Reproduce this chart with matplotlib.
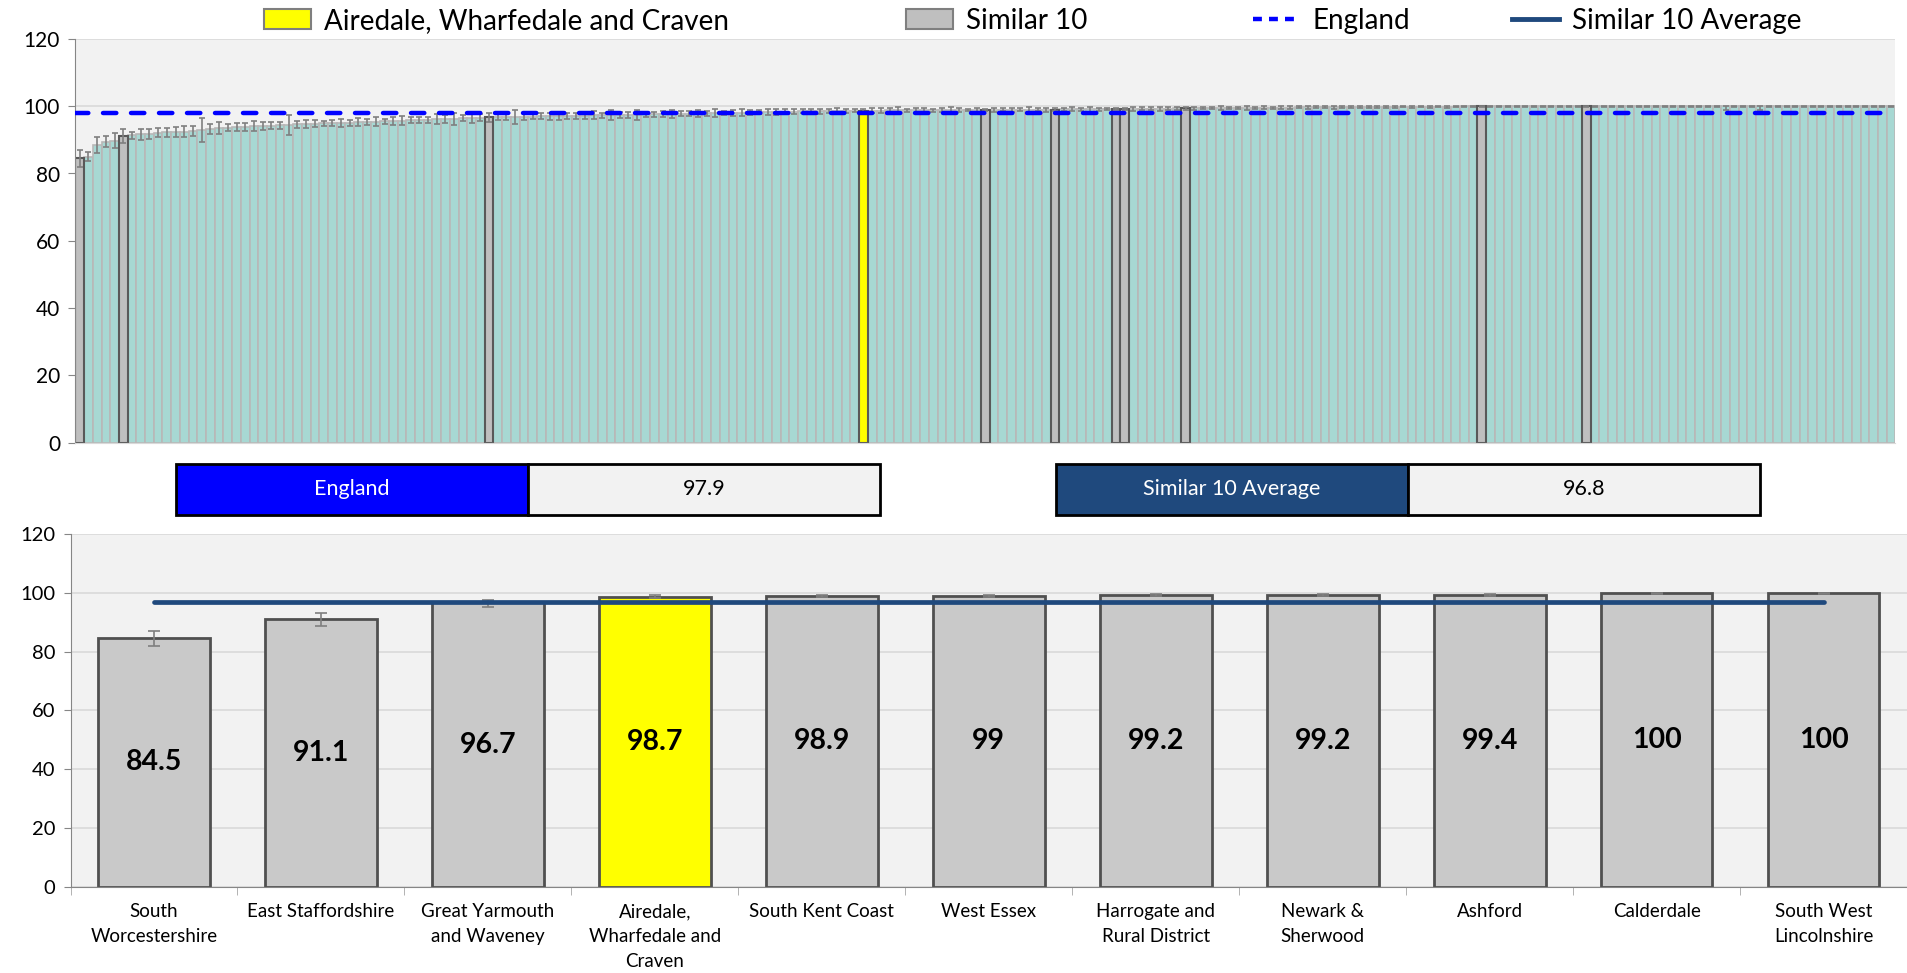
import matplotlib
matplotlib.use("Agg")
import matplotlib.pyplot as plt
from matplotlib.patches import Patch, Rectangle
from matplotlib.lines import Line2D

plt.rcParams['font.family'] = ['Lato', 'DejaVu Sans']

# all areas, sorted ascending (top chart)
all_values = [
    84.5, 85.0, 88.5, 89.5, 89.8, 91.1, 91.3, 91.6, 91.8, 92.1, 92.2, 92.4, 92.4, 92.6,
    92.9, 93.2, 93.4, 93.6, 93.8, 93.9, 94.0, 94.1, 94.2, 94.3, 94.4, 94.6, 94.7, 94.8,
    94.9, 95.0, 95.0, 95.1, 95.2, 95.3, 95.4, 95.5, 95.6, 95.7, 95.8, 95.9, 96.0, 96.1,
    96.2, 96.3, 96.4, 96.5, 96.6, 96.7, 96.7, 96.8, 96.8, 96.9, 96.9, 97.0, 97.0, 97.1,
    97.1, 97.2, 97.2, 97.3, 97.3, 97.4, 97.4, 97.5, 97.5, 97.6, 97.6, 97.7, 97.7, 97.8,
    97.8, 97.9, 97.9, 98.0, 98.0, 98.1, 98.1, 98.2, 98.2, 98.3, 98.3, 98.4, 98.4, 98.5,
    98.5, 98.5, 98.6, 98.6, 98.6, 98.7, 98.7, 98.7, 98.7, 98.8, 98.8, 98.8, 98.8, 98.8,
    98.8, 98.8, 98.9, 98.9, 98.9, 98.9, 98.9, 98.9, 99.0, 99.0, 99.0, 99.0, 99.0, 99.0,
    99.0, 99.1, 99.1, 99.1, 99.1, 99.1, 99.2, 99.2, 99.2, 99.2, 99.3, 99.3, 99.3, 99.3,
    99.4, 99.4, 99.4, 99.4, 99.5, 99.5, 99.5, 99.5, 99.5, 99.6, 99.6, 99.6, 99.6, 99.6,
    99.7, 99.7, 99.7, 99.7, 99.7, 99.7, 99.8, 99.8, 99.8, 99.8, 99.8, 99.8, 99.9, 99.9,
    99.9, 99.9, 99.9, 99.9, 99.9, 100, 100, 100, 100, 100, 100, 100, 100, 100,
    100, 100, 100, 100, 100, 100, 100, 100, 100, 100, 100, 100, 100, 100,
    100, 100, 100, 100, 100, 100, 100, 100, 100, 100, 100, 100, 100, 100,
    100, 100, 100, 100, 100, 100, 100, 100, 100, 100, 100, 100, 100,
]
all_err = [
    2.5, 1.3, 2.3, 1.7, 2.3, 2.1, 1.1, 1.7, 1.5, 1.4, 1.3, 1.5, 1.6, 1.5,
    3.5, 1.5, 1.8, 1.0, 1.2, 1.2, 1.5, 1.3, 1.1, 1.0, 3.0, 1.0, 1.2, 1.0,
    0.8, 1.0, 1.1, 0.9, 1.2, 1.0, 1.3, 0.8, 1.1, 1.4, 0.9, 1.0, 0.9, 1.5,
    1.2, 1.8, 0.9, 1.4, 1.0, 1.3, 0.9, 1.0, 2.2, 1.1, 0.8, 0.9, 1.0, 1.3,
    0.8, 0.9, 1.0, 1.2, 0.7, 1.4, 0.8, 0.9, 1.5, 0.8, 0.7, 0.9, 1.3, 0.8,
    0.7, 1.0, 0.8, 1.1, 0.7, 0.9, 1.0, 0.8, 0.6, 0.9, 1.0, 0.7, 0.8, 0.6,
    0.7, 0.8, 0.6, 0.9, 0.7, 0.5, 0.5, 0.8, 0.7, 0.6, 0.9, 0.5, 0.7, 0.6,
    0.5, 0.6, 0.8, 0.5, 0.4, 0.6, 0.4, 0.7, 0.5, 0.6, 0.4, 0.8, 0.5, 0.6,
    0.4, 0.5, 0.6, 0.4, 0.7, 0.5, 0.4, 0.4, 0.4, 0.6, 0.5, 0.4, 0.6, 0.5,
    0.4, 0.4, 0.5, 0.3, 0.4, 0.5, 0.3, 0.4, 0.6, 0.3, 0.4, 0.3, 0.5, 0.4,
    0.3, 0.4, 0.3, 0.3, 0.5, 0.3, 0.3, 0.4, 0.3, 0.2, 0.3, 0.4, 0.2, 0.3,
    0.2, 0.3, 0.2, 0.3, 0.2, 0.3, 0.2, 0.3, 0.2, 0.3, 0.2, 0.2, 0.3, 0.2,
    0.3, 0.2, 0.2, 0.3, 0.2, 0.3, 0.2, 0.2, 0.3, 0.2, 0.2, 0.2, 0.3, 0.2,
    0.2, 0.3, 0.2, 0.2, 0.3, 0.2, 0.2, 1.0, 0.2, 0.3, 0.2, 1.2, 0.2, 0.3,
    0.2, 0.2, 0.3, 0.2, 0.3, 0.2, 0.2, 0.3, 0.2, 0.2, 0.3, 0.2, 0.2,
]
similar_idx = [0, 5, 47, 104, 112, 119, 120, 127, 161, 173]
local_idx = 90

# similar 10 + local area (bottom chart)
names = ["South\nWorcestershire", "East Staffordshire", "Great Yarmouth\nand Waveney",
         "Airedale,\nWharfedale and\nCraven", "South Kent Coast", "West Essex",
         "Harrogate and\nRural District", "Newark &\nSherwood", "Ashford", "Calderdale",
         "South West\nLincolnshire"]
values = [84.5, 91.1, 96.7, 98.7, 98.9, 99.0, 99.2, 99.2, 99.4, 100, 100]
ci_low = [81.8, 88.6, 95.2, 98.2, 98.5, 98.6, 98.8, 98.8, 99.0, 99.7, 99.6]
ci_high = [86.9, 93.2, 97.7, 99.1, 99.2, 99.3, 99.5, 99.5, 99.7, 100, 100]
local_name = "Airedale, Wharfedale and Craven"
england = 97.9
similar_avg = 96.8

W, H = 1907, 973
fig = plt.figure(figsize=(W / 100, H / 100), dpi=100)

# ---- top chart
ax1 = fig.add_axes([75.4 / W, 1 - 442.7 / H, 1820 / W, 403.8 / H])
ax1.set_facecolor('#F2F2F2')
n = len(all_values)
x = list(range(n))
lo_err = all_err
hi_err = [min(v + e, 100) - v for v, e in zip(all_values, all_err)]
ax1.bar(x, all_values, width=1.0, color='#A7D8D3', edgecolor='#B8B8B8', linewidth=1.2, zorder=2)
# highlighted bars drawn on top so their outlines stay visible
ax1.bar(similar_idx, [all_values[i] for i in similar_idx], width=1.0, color='#BFBFBF',
        edgecolor='#595959', linewidth=1.5, zorder=2.5)
ax1.bar([local_idx], [all_values[local_idx]], width=1.0, color='#FFFF00',
        edgecolor='#595959', linewidth=1.5, zorder=2.5)
ax1.errorbar(x, all_values, yerr=[lo_err, hi_err], fmt='none', ecolor='#7F7F7F',
             elinewidth=1.2, capsize=2.5, capthick=1.2, zorder=3)
ax1.plot([-0.5, n - 0.5], [england, england], color='#0000FF', lw=3.2,
         dashes=(3.0, 3.3), dash_capstyle='round', zorder=4)
ax1.set_xlim(-0.5, n - 0.5)
ax1.set_ylim(0, 120)
ax1.set_yticks(range(0, 121, 20))
ax1.set_xticks([])
ax1.grid(axis='y', color='#D9D9D9', lw=1.2, zorder=0)
ax1.set_axisbelow(True)
ax1.tick_params(axis='y', labelsize=15, length=5, color='#868686', pad=6)
for s in ['top', 'right']:
    ax1.spines[s].set_visible(False)
ax1.spines['left'].set_color('#868686')
ax1.spines['bottom'].set_color('#D9D9D9')

# ---- legend
leg_items = [
    (264, Patch(facecolor='#FFFF00', edgecolor='#7F7F7F', lw=1.5), local_name),
    (906, Patch(facecolor='#BFBFBF', edgecolor='#7F7F7F', lw=1.5), "Similar 10"),
    (1253, Line2D([], [], color='#0000FF', lw=3.2, dashes=(2.0, 1.6)), "England"),
    (1512, Line2D([], [], color='#1F497D', lw=3.5), "Similar 10 Average"),
]
for px, h, lab in leg_items:
    fig.legend([h], [lab], loc='center left', bbox_to_anchor=(px / W, 1 - 21 / H),
               frameon=False, fontsize=20, handlelength=1.7, handleheight=0.75,
               handletextpad=0.45, borderpad=0, borderaxespad=0)

# ---- summary boxes
boxes = [(176, "England", england, '#0000FF'),
         (1056, "Similar 10 Average", similar_avg, '#1F497D')]
for bx, lab, val, col in boxes:
    by, bw, bh = 463.5, 352, 51
    fig.add_artist(Rectangle((bx / W, 1 - (by + bh) / H), bw / W, bh / H,
                             transform=fig.transFigure, facecolor=col,
                             edgecolor='black', lw=2))
    fig.add_artist(Rectangle(((bx + bw) / W, 1 - (by + bh) / H), bw / W, bh / H,
                             transform=fig.transFigure, facecolor='#F2F2F2',
                             edgecolor='black', lw=2))
    fig.text((bx + bw / 2) / W, 1 - (by + bh / 2) / H, lab, color='white',
             fontsize=15.5, ha='center', va='center')
    fig.text((bx + bw * 1.5) / W, 1 - (by + bh / 2) / H, f"{val:g}", color='black',
             fontsize=15.5, ha='center', va='center')

# ---- bottom chart
ax2 = fig.add_axes([70.5 / W, 1 - 886.6 / H, (W - 70.5) / W, 352.6 / H])
ax2.set_facecolor('#F2F2F2')
pos = list(range(len(values)))
cols = ['#FFFF00' if nm.replace("\n", " ") == local_name else '#C9C9C9' for nm in names]
bars = ax2.bar(pos, values, width=0.67, color=cols, edgecolor='#505050', linewidth=2, zorder=2)
ax2.errorbar(pos, values,
             yerr=[[v - l for v, l in zip(values, ci_low)], [h - v for v, h in zip(values, ci_high)]],
             fmt='none', ecolor='#7F7F7F', elinewidth=1.2, capsize=4, capthick=1.2, zorder=3)
ax2.bar_label(bars, labels=[f"{v:g}" for v in values], label_type='center',
              fontsize=20.5, fontweight='bold', zorder=5)
ax2.plot([pos[0], pos[-1]], [similar_avg, similar_avg], color='#1F497D', lw=3.4,
         solid_capstyle='round', zorder=4)
ax2.set_xlim(-0.5, len(values) - 0.5)
ax2.set_ylim(0, 120)
ax2.set_yticks(range(0, 121, 20))
ax2.grid(axis='y', color='#D9D9D9', lw=1.2, zorder=0)
ax2.set_axisbelow(True)
ax2.set_xticks(pos)
ax2.set_xticklabels(names, fontsize=13.5, linespacing=1.55)
ax2.set_xticks([p - 0.5 for p in pos], minor=True)
ax2.tick_params(axis='x', which='major', length=0, pad=12)
ax2.tick_params(axis='x', which='minor', length=6, color='#A6A6A6')
ax2.tick_params(axis='y', labelsize=14.5, length=5, color='#868686', pad=6)
for s in ['top', 'right']:
    ax2.spines[s].set_visible(False)
ax2.spines['left'].set_color('#868686')
ax2.spines['bottom'].set_color('#868686')

fig.savefig("out.png", dpi=100)
